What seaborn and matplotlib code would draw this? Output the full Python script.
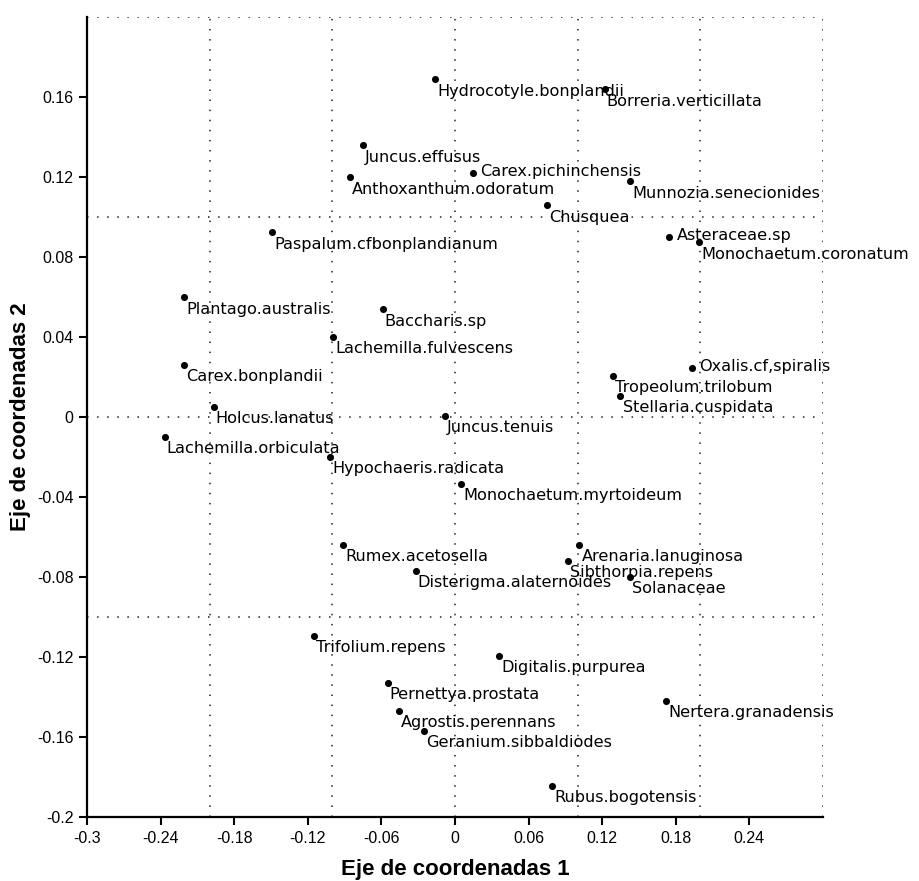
import pandas as pd
import matplotlib
matplotlib.use("Agg")
import matplotlib.pyplot as plt
import seaborn as sns
import numpy as np

species = [
    "Hydrocotyle.bonplandii", "Borreria.verticillata", "Juncus.effusus",
    "Carex.pichinchensis", "Anthoxanthum.odoratum", "Munnozia.senecionides",
    "Chusquea", "Paspalum.cfbonplandianum", "Asteraceae.sp",
    "Monochaetum.coronatum", "Plantago.australis", "Baccharis.sp",
    "Lachemilla.fulvescens", "Carex.bonplandii", "Holcus.lanatus",
    "Juncus.tenuis", "Lachemilla.orbiculata", "Hypochaeris.radicata",
    "Monochaetum.myrtoideum", "Oxalis.cf,spiralis", "Tropeolum.trilobum",
    "Stellaria.cuspidata", "Rumex.acetosella", "Arenaria.lanuginosa",
    "Sibthorpia.repens", "Solanaceae", "Disterigma.alaternoides",
    "Trifolium.repens", "Digitalis.purpurea", "Pernettya.prostata",
    "Agrostis.perennans", "Geranium.sibbaldiodes", "Nertera.granadensis",
    "Rubus.bogotensis",
]
eje1 = [
    -0.016, 0.122, -0.075, 0.0145, -0.086, 0.143,
    0.075, -0.149, 0.175, 0.199, -0.221, -0.059,
    -0.0995, -0.221, -0.197, -0.008, -0.237, -0.102,
    0.005, 0.193, 0.129, 0.135, -0.091, 0.1015,
    0.092, 0.143, -0.032, -0.115, 0.036, -0.055,
    -0.046, -0.0255, 0.172, 0.079,
]
eje2 = [
    0.169, 0.164, 0.136, 0.122, 0.120, 0.118,
    0.106, 0.0925, 0.090, 0.0875, 0.060, 0.054,
    0.040, 0.026, 0.005, 0.0007, -0.010, -0.020,
    -0.0335, 0.0245, 0.0205, 0.0105, -0.064, -0.064,
    -0.072, -0.080, -0.077, -0.1095, -0.1195, -0.133,
    -0.147, -0.157, -0.142, -0.1845,
]

x_ticks = [-0.3, -0.24, -0.18, -0.12, -0.06, 0, 0.06, 0.12, 0.18, 0.24]
x_tick_labels = ["-0.3", "-0.24", "-0.18", "-0.12", "-0.06", "0", "0.06", "0.12", "0.18", "0.24"]
y_ticks = [-0.2, -0.16, -0.12, -0.08, -0.04, 0, 0.04, 0.08, 0.12, 0.16]
y_tick_labels = ["-0.2", "-0.16", "-0.12", "-0.08", "-0.04", "0", "0.04", "0.08", "0.12", "0.16"]
x_grid = [-0.2, -0.1, 0, 0.1, 0.2, 0.3]
y_grid = [-0.1, 0, 0.1, 0.2]

df = pd.DataFrame({"especie": species, "eje1": eje1, "eje2": eje2})

sns.set_style("white")
plt.rcParams["font.family"] = ["DejaVu Sans"]
plt.rcParams["text.color"] = "black"
plt.rcParams["axes.labelcolor"] = "black"
plt.rcParams["xtick.color"] = "black"
plt.rcParams["ytick.color"] = "black"

fig = plt.figure(figsize=(9.19, 8.81), dpi=100)
ax = fig.add_axes([0.095, 0.073, 0.8002, 0.9074])

# dotted reference lines
for gx in x_grid:
    ax.axvline(gx, color="#222222", lw=1.1, linestyle=(0, (1, 5.6)), zorder=1)
for gy in y_grid:
    ax.axhline(gy, color="#222222", lw=1.1, linestyle=(0, (1, 5.6)), zorder=1)

sns.scatterplot(data=df, x="eje1", y="eje2", color="black", s=26,
                edgecolor="black", linewidth=0, ax=ax, zorder=3)

# labels that sit to the right of the point instead of below it
right_side = {"Carex.pichinchensis", "Asteraceae.sp", "Oxalis.cf,spiralis"}
for name, x, y in zip(df["especie"], df["eje1"], df["eje2"]):
    if name in right_side:
        off = (5.5, 1.0)
    else:
        off = (1.5, -8.6)
    ax.annotate(name, (x, y), xytext=off, textcoords="offset points",
                ha="left", va="center", fontsize=11.6, color="black", zorder=4)

ax.set_xlim(-0.3, 0.3)
ax.set_ylim(-0.2, 0.2)
ax.set_xticks(x_ticks)
ax.set_xticklabels(x_tick_labels, family="Liberation Sans", fontsize=11.5)
ax.set_yticks(y_ticks)
ax.set_yticklabels(y_tick_labels, family="Liberation Sans", fontsize=11.5)
ax.tick_params(axis="both", direction="out", length=6, width=1.5, color="black",
               bottom=True, left=True, pad=4)

for side in ["top", "right"]:
    ax.spines[side].set_visible(False)
for side in ["left", "bottom"]:
    ax.spines[side].set_color("black")
    ax.spines[side].set_linewidth(1.6)

ax.set_xlabel("Eje de coordenadas 1", family="Liberation Sans", fontweight="bold", fontsize=16)
ax.set_ylabel("Eje de coordenadas 2", family="Liberation Sans", fontweight="bold", fontsize=16)
ax.xaxis.set_label_coords(0.5, -0.053)
ax.yaxis.set_label_coords(-0.077, 0.5)

fig.savefig("out.png", dpi=100)
